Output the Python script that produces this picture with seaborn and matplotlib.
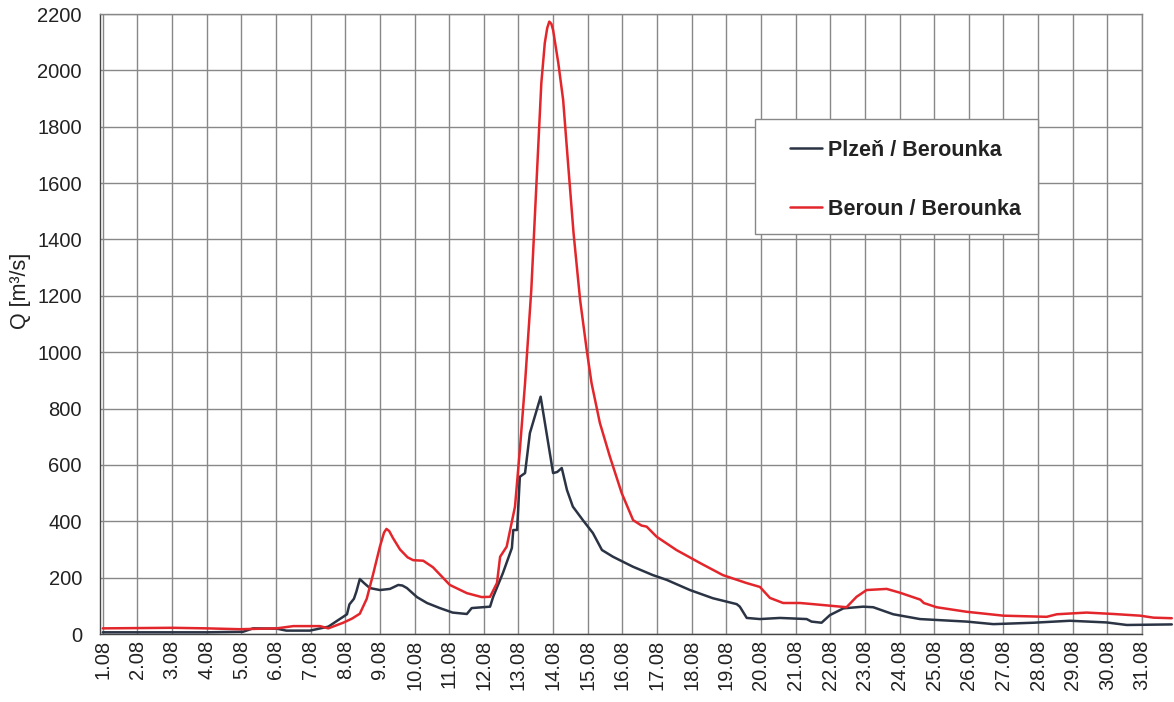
import numpy as np
import pandas as pd
import seaborn as sns
import matplotlib
matplotlib.use("Agg")
import matplotlib.pyplot as plt
from matplotlib.patches import Rectangle

# Discharge hydrographs, August (day of month, Q in m3/s)
plzen_day = [1.0, 2.0, 3.0, 4.0, 5.05, 5.34, 6.02, 6.3, 6.98, 7.51, 7.84, 7.94, 8.05,
             8.12, 8.25, 8.32, 8.42, 8.55, 8.71, 9.0, 9.29, 9.53, 9.65, 9.78, 10.07,
             10.36, 10.73, 11.1, 11.51, 11.65, 12.18, 12.27, 12.55, 12.81, 12.85, 12.96,
             13.04, 13.19, 13.33, 13.47, 13.64, 14.0, 14.12, 14.25, 14.4, 14.57, 14.86,
             15.15, 15.41, 15.73, 16.3, 16.88, 17.28, 17.95, 18.61, 19.3, 19.39, 19.59,
             19.97, 20.55, 21.13, 21.32, 21.46, 21.75, 21.99, 22.38, 22.95, 23.24, 23.82,
             24.59, 25.94, 26.71, 27.87, 28.92, 29.98, 30.56, 31.86]
plzen_q = [6, 6, 6, 6, 8, 20, 19, 12, 12, 26, 53, 61, 70,
           105, 125, 150, 195, 180, 163, 156, 160, 174, 172, 163, 131,
           110, 92, 76, 71, 92, 97, 132, 216, 305, 369, 369,
           558, 571, 713, 771, 842, 571, 575, 589, 511, 452, 404,
           358, 298, 274, 239, 209, 192, 156, 127, 106, 97, 57,
           53, 57, 54, 53, 44, 40, 67, 91, 97, 95, 70,
           53, 44, 35, 40, 47, 41, 32, 34]

beroun_day = [1.0, 3.0, 4.0, 4.96, 6.02, 6.5, 7.27, 7.51, 7.94, 8.2, 8.42, 8.62, 8.81,
              9.0, 9.12, 9.19, 9.27, 9.38, 9.58, 9.8, 9.96, 10.25, 10.53, 11.02, 11.51,
              11.94, 12.18, 12.38, 12.47, 12.66, 12.9, 13.04, 13.19, 13.37, 13.52, 13.66,
              13.76, 13.83, 13.89, 13.95, 14.0, 14.15, 14.29, 14.44, 14.59, 14.78, 14.97,
              15.11, 15.35, 15.64, 15.98, 16.31, 16.55, 16.7, 16.99, 17.56, 18.24, 18.9,
              19.58, 19.97, 20.26, 20.64, 21.13, 21.5, 22.47, 22.76, 23.05, 23.63, 24.0,
              24.6, 24.7, 25.07, 25.93, 27.0, 28.25, 28.54, 29.4, 30.18, 30.95, 31.33,
              31.86]
beroun_q = [20, 22, 20, 17, 20, 28, 28, 20, 40, 55, 72, 125, 215,
            310, 360, 373, 365, 340, 300, 272, 262, 260, 237, 174, 145,
            131, 132, 181, 274, 310, 452, 653, 890, 1220, 1600, 1955,
            2097, 2150, 2173, 2165, 2143, 2026, 1895, 1657, 1423, 1185, 1008,
            890, 749, 629, 500, 404, 385, 381, 345, 298, 252, 209,
            181, 167, 128, 110, 110, 106, 95, 132, 156, 160, 147,
            122, 110, 95, 79, 65, 61, 70, 76, 71, 65, 58,
            56]

station_labels = ["Plzeň / Berounka", "Beroun / Berounka"]
station_colors = ["#2b3444", "#e3262b"]
tick_days = list(range(1, 32))
tick_labels = [f"{d}.08" for d in tick_days]
y_ticks = list(range(0, 2201, 200))

df = pd.concat([
    pd.DataFrame({"day": plzen_day, "Q": plzen_q, "station": station_labels[0]}),
    pd.DataFrame({"day": beroun_day, "Q": beroun_q, "station": station_labels[1]}),
], ignore_index=True)

sns.set_theme(style="white")
plt.rcParams["font.family"] = ["Liberation Sans", "DejaVu Sans"]

fig = plt.figure(figsize=(11.74, 7.02), dpi=100)
ax = fig.add_axes([100 / 1174, 1 - 634 / 702, 1042 / 1174, 620 / 702])

sns.lineplot(data=df, x="day", y="Q", hue="station", hue_order=station_labels,
             palette=station_colors, linewidth=1.8, sort=False, estimator=None,
             ax=ax, zorder=3)
for ln in ax.lines:
    ln.set_clip_on(False)
    ln.set_solid_joinstyle("round")

ax.set_xlim(0.92, 31.0)
ax.set_ylim(0, 2200)
ax.set_xticks(tick_days)
ax.set_xticklabels(tick_labels, rotation=90, fontsize=14.5, color="#222222")
ax.set_yticks(y_ticks)
ax.set_yticklabels([str(v) for v in y_ticks], fontsize=14.5, color="#222222")
ax.tick_params(axis="y", length=4, width=1, color="#555555", pad=9, direction="out")
ax.tick_params(axis="x", length=0, pad=4)

ax.grid(True, color="#888888", linewidth=1.0)
for side, sp in ax.spines.items():
    sp.set_color("#888888")
    sp.set_linewidth(1.0)
ax.spines["left"].set_color("#444444")
ax.spines["bottom"].set_color("#444444")

ax.set_xlabel("")
ax.set_ylabel("Q [m³/s]", fontsize=15.5, color="#222222")
ax.yaxis.set_label_coords(-0.066, 0.553)

# legend box with wide inner margins
bx0, by0 = (755 - 100) / 1042, (634 - 234) / 620
ax.add_patch(Rectangle((bx0, by0), 283 / 1042, 115 / 620, transform=ax.transAxes,
                       facecolor="white", edgecolor="#888888", linewidth=1.0,
                       zorder=4, clip_on=False))
handles, labels = ax.get_legend_handles_labels()
leg = ax.legend(handles, labels, loc="upper left",
                bbox_to_anchor=(790 / 1174, 1 - 140 / 702), bbox_transform=fig.transFigure,
                frameon=False, borderpad=0, borderaxespad=0, handlelength=1.5,
                handletextpad=0.25, labelspacing=1.75,
                prop={"weight": "bold", "size": 15.5})
leg.set_zorder(5)
for t in leg.get_texts():
    t.set_color("#222222")

fig.savefig("out.png", dpi=100, facecolor="white")
